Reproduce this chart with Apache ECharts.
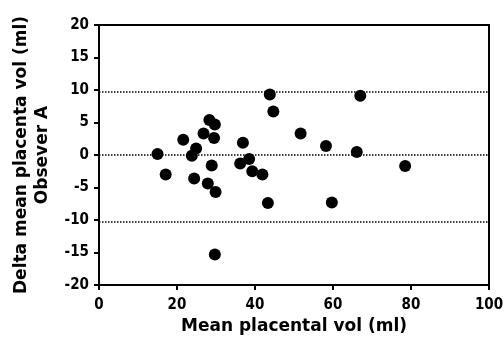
<!DOCTYPE html>
<html>
<head>
<meta charset="utf-8">
<script src="https://cdn.jsdelivr.net/npm/echarts@6/dist/echarts.min.js"></script>
<style>
  html, body { margin: 0; padding: 0; background: #fff; }
  #chart { width: 504px; height: 343px; }
</style>
</head>
<body>
<div id="chart"></div>
<script>
// Bland-Altman data: mean placental volume vs difference (observer A)
var meanVol = [15.0, 17.1, 21.6, 23.8, 24.9, 24.4, 26.8, 28.3, 29.7, 29.5, 28.9, 27.9, 29.9, 29.7,
               36.9, 36.2, 38.5, 39.3, 41.9, 43.3, 43.8, 44.7, 51.7, 58.2, 59.7, 67.0, 66.1, 78.5];
var deltaVol = [0.15, -3.0, 2.35, -0.1, 1.0, -3.6, 3.3, 5.4, 4.7, 2.6, -1.6, -4.4, -5.7, -15.3,
                1.9, -1.3, -0.6, -2.5, -3.0, -7.4, 9.3, 6.7, 3.3, 1.4, -7.3, 9.1, 0.46, -1.7];
var refLines = [0, 9.7, -10.2];

var chart = echarts.init(document.getElementById('chart'));

var points = meanVol.map(function(v, i) { return [v, deltaVol[i]]; });

var labelFont = {
    color: '#000',
    fontFamily: "'Liberation Sans Narrow', 'DejaVu Sans Condensed', 'Liberation Sans', sans-serif",
    fontWeight: 'bold',
    fontSize: 15
};
var titleFont = {
    color: '#000',
    fontFamily: 'DejaVu Sans, sans-serif',
    fontWeight: 'bold',
    fontSize: 17
};

chart.setOption({
    animation: false,
    grid: {
        left: 99,
        right: 15,
        top: 25,
        bottom: 58,
        outerBoundsMode: 'none',
        containLabel: false,
        show: true,
        borderColor: '#000',
        borderWidth: 2
    },
    xAxis: {
        type: 'value',
        min: 0,
        max: 100,
        interval: 20,
        name: 'Mean placental vol (ml)',
        nameLocation: 'middle',
        nameGap: 25,
        nameTextStyle: titleFont,
        axisLine: { onZero: false, lineStyle: { color: '#000', width: 2 } },
        axisTick: { length: 5, lineStyle: { color: '#000', width: 2 } },
        axisLabel: Object.assign({ margin: 13 }, labelFont),
        splitLine: { show: false }
    },
    yAxis: {
        type: 'value',
        min: -20,
        max: 20,
        interval: 5,
        name: 'Delta mean placenta vol (ml)\nObsever A',
        nameLocation: 'middle',
        nameGap: 46,
        nameTextStyle: Object.assign({ lineHeight: 21 }, titleFont),
        axisLine: { onZero: false, lineStyle: { color: '#000', width: 2 } },
        axisTick: { length: 5, lineStyle: { color: '#000', width: 2 } },
        axisLabel: Object.assign({ margin: 10 }, labelFont),
        splitLine: { show: false }
    },
    series: [{
        type: 'scatter',
        symbol: 'circle',
        symbolSize: 12,
        itemStyle: { color: '#000', opacity: 1 },
        data: points,
        markLine: {
            silent: true,
            symbol: 'none',
            label: { show: false },
            lineStyle: { color: '#000', type: 'dotted', width: 1.5 },
            data: refLines.map(function(v) { return { yAxis: v }; })
        }
    }]
});
</script>
</body>
</html>
